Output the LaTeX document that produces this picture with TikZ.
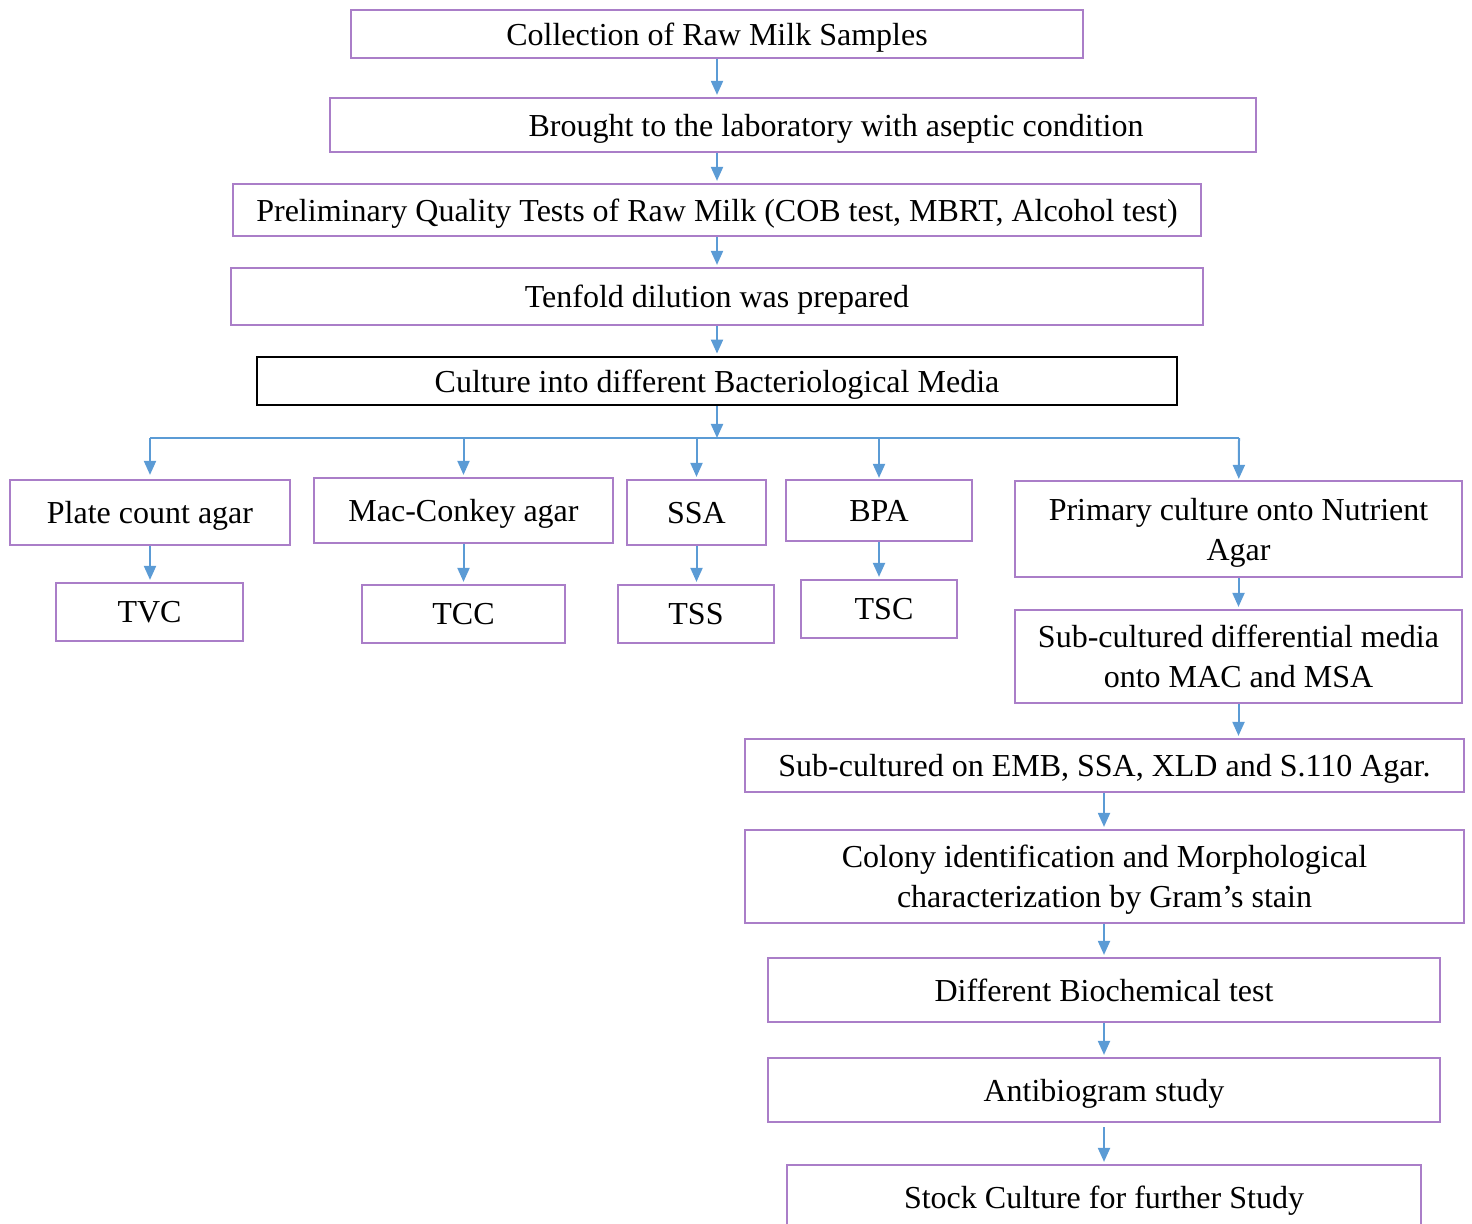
\documentclass[tikz,border=0pt]{standalone}
\usepackage{fontspec}
\setmainfont{Liberation Serif}
\usetikzlibrary{arrows.meta}
\definecolor{boxpurple}{RGB}{170,126,200}
\definecolor{arrowblue}{RGB}{91,155,213}
\tikzset{
  stepbox/.style={draw=boxpurple, line width=1.1pt, inner sep=0pt, align=center, text depth=0pt},
  arr/.style={draw=arrowblue, line width=1pt, -{Triangle[length=7pt,width=6pt]}, shorten >=1pt},
}
\begin{document}
\begin{tikzpicture}[x=1pt, y=-1pt, font=\fontsize{16}{20}\selectfont]
\clip (0,0) rectangle (736,612);
\useasboundingbox (0,0) rectangle (736,612);
\node[stepbox, minimum width=366pt, minimum height=24pt] (collect) at (358.5,17){Collection of Raw Milk Samples};
\node[stepbox, minimum width=463pt, minimum height=27pt, label={[xshift=21.5pt, text depth=0pt]center:Brought to the laboratory with aseptic condition}] (brought) at (396.5,62.5){};
\node[stepbox, minimum width=484pt, minimum height=26pt] (prelim) at (358.5,105){Preliminary Quality Tests of Raw Milk (COB test, MBRT, Alcohol test)};
\node[stepbox, minimum width=486pt, minimum height=28.5pt] (tenfold) at (358.5,148.25){Tenfold dilution was prepared};
\node[stepbox, draw=black, line width=1.4pt, minimum width=460pt, minimum height=24pt] (culture) at (358.5,190.5){Culture into different Bacteriological Media};
\draw[arr] (collect) -- (collect |- brought.north);
\draw[arr] (brought.south -| collect) -- (collect |- prelim.north);
\draw[arr] (prelim) -- (tenfold);
\draw[arr] (tenfold) -- (culture);

\coordinate (split) at (358.5,219);
\coordinate (bl) at (75,219);
\coordinate (br) at (619.5,219);
\draw[arr, shorten >=0pt] (culture) -- (split);
\draw[draw=arrowblue, line width=0.7pt] (bl) -- (br);

\node[stepbox, minimum width=140pt, minimum height=32.5pt] (plate) at (75,256.25){Plate count agar};
\node[stepbox, minimum width=149.5pt, minimum height=32.5pt] (mac) at (231.75,255.25){Mac-Conkey agar};
\node[stepbox, minimum width=69.5pt, minimum height=32.5pt] (ssa) at (348.25,256.25){SSA};
\node[stepbox, minimum width=93pt, minimum height=30.5pt] (bpa) at (439.5,255.25){BPA};
\node[stepbox, minimum width=223.5pt, minimum height=48pt] (primary) at (619.25,264.5){Primary culture onto Nutrient\\Agar};
\draw[arr, shorten >=2pt] (bl) -- (plate);
\draw[arr] (mac |- bl) -- (mac);
\draw[arr] (ssa |- bl) -- (ssa);
\draw[arr, shorten >=0.5pt] (bpa |- bl) -- (bpa);
\draw[arr, shorten >=0.5pt] (br) -- (primary);

\node[stepbox, minimum width=93.5pt, minimum height=29pt] (tvc) at (74.75,306){TVC};
\node[stepbox, minimum width=101.5pt, minimum height=29pt] (tcc) at (231.75,307){TCC};
\node[stepbox, minimum width=78pt, minimum height=29pt] (tss) at (348,307){TSS};
\node[stepbox, minimum width=78pt, minimum height=29pt, label={[xshift=2.5pt, text depth=0pt]center:TSC}] (tsc) at (439.5,304.5){};
\draw[arr] (plate) -- (plate |- tvc.north);
\draw[arr] (mac) -- (mac |- tcc.north);
\draw[arr] (ssa) -- (ssa |- tss.north);
\draw[arr] (bpa) -- (bpa |- tsc.north);

\node[stepbox, minimum width=223.5pt, minimum height=46.5pt] (subdiff) at (619.25,328.25){Sub-cultured differential media\\onto MAC and MSA};
\node[stepbox, minimum width=359.5pt, minimum height=26.5pt] (emb) at (552.25,382.75){Sub-cultured on EMB, SSA, XLD and S.110 Agar.};
\node[stepbox, minimum width=359.5pt, minimum height=46.5pt] (colony) at (552.25,438.25){Colony identification and Morphological\\characterization by Gram’s stain};
\node[stepbox, minimum width=336pt, minimum height=32pt] (biochem) at (552,495){Different Biochemical test};
\node[stepbox, minimum width=336pt, minimum height=32pt] (antibio) at (552,545){Antibiogram study};
\node[stepbox, minimum width=317pt, minimum height=32pt] (stock) at (552,598.5){Stock Culture for further Study};
\draw[arr] (primary) -- (subdiff);
\draw[arr] (subdiff) -- (subdiff |- emb.north);
\draw[arr] (emb.south -| biochem) -- (biochem |- colony.north);
\draw[arr] (colony.south -| biochem) -- (biochem);
\draw[arr] (biochem) -- (antibio);
\draw[arr, shorten <=2pt] (antibio) -- (stock);
\end{tikzpicture}
\end{document}
